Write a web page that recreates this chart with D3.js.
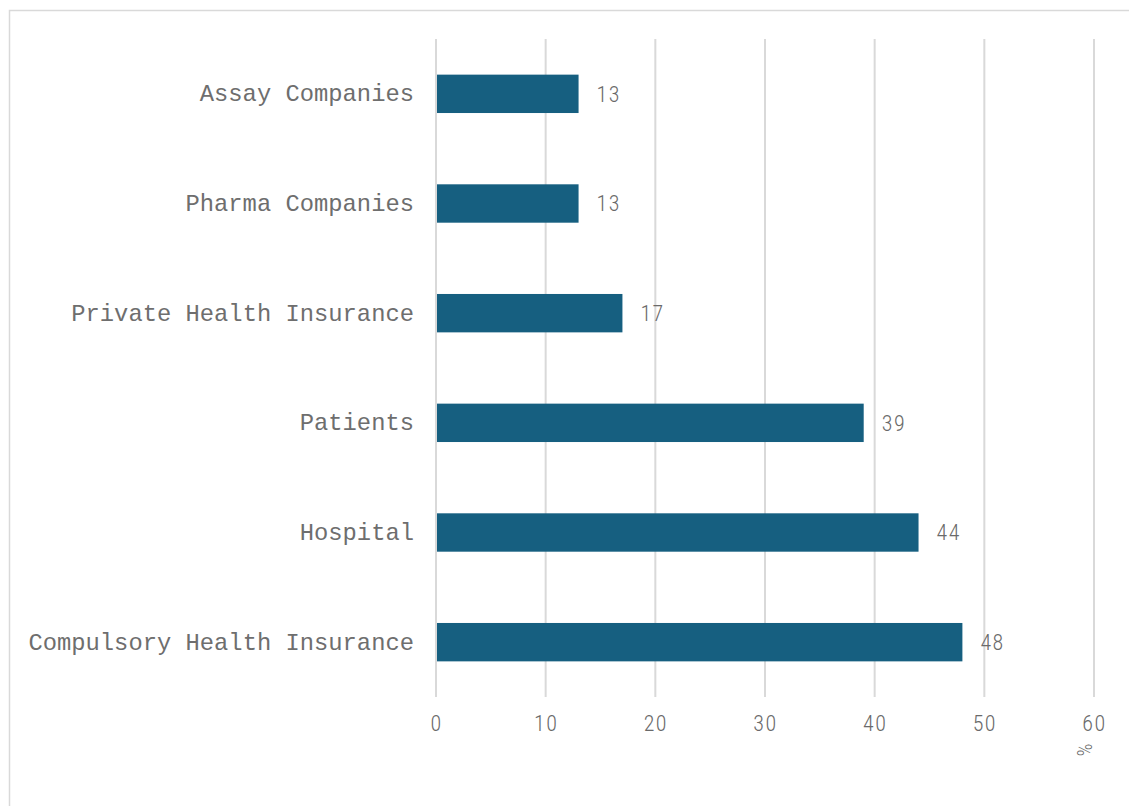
<!DOCTYPE html>
<html>
<head>
<meta charset="utf-8">
<script src="https://cdn.jsdelivr.net/npm/d3@7"></script>
<style>
  body { margin: 0; background: #fff; }
  svg { display: block; }
</style>
</head>
<body>
<svg id="chart"></svg>
<script>
const categories = ["Assay Companies", "Pharma Companies", "Private Health Insurance", "Patients", "Hospital", "Compulsory Health Insurance"];
const values = [13, 13, 17, 39, 44, 48];
const xTicks = [0, 10, 20, 30, 40, 50, 60];
const xUnit = "%";

const W = 1129, H = 806;
const margin = { top: 39, right: 35, bottom: 109, left: 436 };
const width = 1094 - margin.left;
const height = 697 - margin.top;

const svg = d3.select("#chart").attr("width", W).attr("height", H);

// outer frame
svg.append("rect")
  .attr("x", 9.5).attr("y", 10.5)
  .attr("width", W + 20).attr("height", H + 20)
  .attr("fill", "none").attr("stroke", "#d9d9d9").attr("stroke-width", 1.5);

const g = svg.append("g").attr("transform", `translate(${margin.left}, ${margin.top})`);

const x = d3.scaleLinear().domain([0, 60]).range([0, width]);
const y = d3.scaleBand().domain(categories).range([0, height]).paddingInner(0.65).paddingOuter(0.325);

const numFont = "'Liberation Sans Narrow', 'Roboto Condensed', Roboto, sans-serif";

// gridlines
g.selectAll(".grid").data(xTicks).enter().append("line")
  .attr("class", "grid")
  .attr("x1", d => x(d)).attr("x2", d => x(d))
  .attr("y1", 0).attr("y2", height)
  .attr("stroke", "#d9d9d9").attr("stroke-width", 2);

// bars
g.selectAll(".bar").data(categories).enter().append("rect")
  .attr("class", "bar")
  .attr("x", x(0) + 1)
  .attr("y", c => y(c))
  .attr("width", (c, i) => x(values[i]) - x(0) - 1)
  .attr("height", y.bandwidth())
  .attr("fill", "#165f80");

// value labels
g.selectAll(".val").data(categories).enter().append("text")
  .attr("class", "val")
  .attr("x", (c, i) => x(values[i]) + 18)
  .attr("y", c => y(c) + y.bandwidth() / 2)
  .attr("dy", "0.36em")
  .attr("font-family", numFont)
  .attr("font-size", 22)
  .attr("font-weight", 300)
  .attr("letter-spacing", 1.5)
  .attr("fill", "#6a6a6a")
  .text((c, i) => values[i]);

// category axis labels
const yAxis = d3.axisLeft(y).tickSize(0).tickPadding(22);
const yAx = g.append("g").call(yAxis);
yAx.select(".domain").remove();
yAx.selectAll("text")
  .attr("font-family", "'Liberation Mono', 'Courier New', monospace")
  .attr("font-size", 23.8)
  .attr("fill", "#6e6e6e");

// x axis labels
const xAxis = d3.axisBottom(x).tickValues(xTicks).tickSize(0).tickPadding(18);
const xAx = g.append("g").attr("transform", `translate(0, ${height})`).call(xAxis);
xAx.select(".domain").remove();
xAx.selectAll("text")
  .attr("font-family", numFont)
  .attr("font-size", 22)
  .attr("font-weight", 300)
  .attr("letter-spacing", 1.5)
  .attr("fill", "#6a6a6a");

// unit label
svg.append("text")
  .attr("transform", `translate(1084, 750) rotate(90)`)
  .attr("text-anchor", "middle")
  .attr("dy", "0.35em")
  .attr("font-family", numFont)
  .attr("font-size", 20)
  .attr("font-weight", 300)
  .attr("fill", "#6a6a6a")
  .text(xUnit);
</script>
</body>
</html>
